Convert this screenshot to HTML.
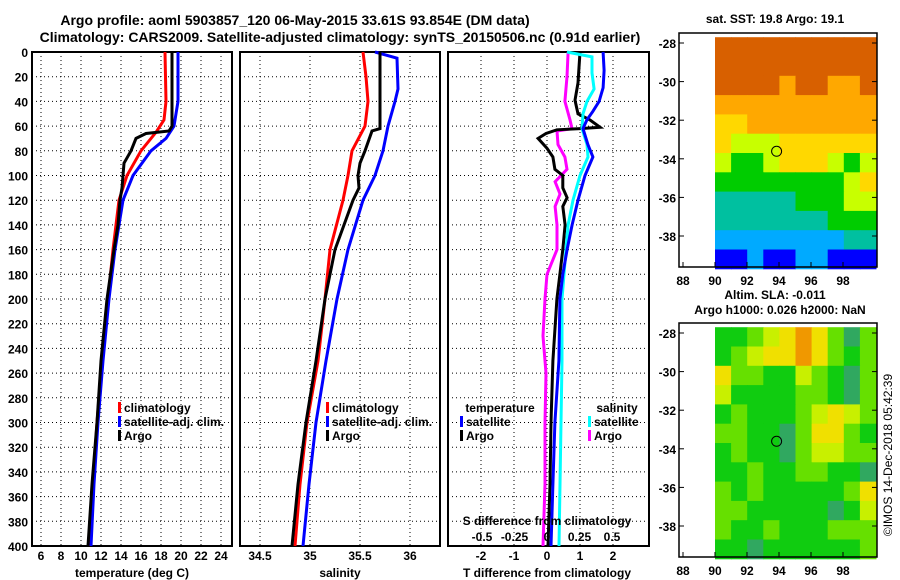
<!DOCTYPE html>
<html><head><meta charset="utf-8">
<style>
html,body{margin:0;padding:0;background:#fff;}
svg{display:block;font-family:"Liberation Sans",sans-serif;font-weight:bold;}
</style></head>
<body>
<svg id="c" width="900" height="580" viewBox="0 0 900 580"></svg>
<script>
// ---------- data ----------
const depthTicks=[0,20,40,60,80,100,120,140,160,180,200,220,240,260,280,300,320,340,360,380,400];
const tempTicks=[6,8,10,12,14,16,18,20,22,24];
const salTicks=[34.5,35,35.5,36];
const tdiffTicks=[-2,-1,0,1,2];
const sdiffTicks=[-0.5,-0.25,0,0.25,0.5];
const sdiffLabels=["-0.5","-0.25","0","0.25","0.5"];

const tClimDepth=[0,40,55,65,80,100,120,140,160,200,250,300,350,400];
const tClimVal=[18.4,18.5,18.3,17.5,16.0,14.6,13.8,13.5,13.2,12.7,12.1,11.6,11.2,10.8];
const tArgoDepth=[0,60,64,66,70,80,90,100,110,120,140,160,200,250,300,350,400];
const tArgoVal=[19.1,19.1,18.8,16.5,15.5,15.0,14.3,14.2,14.1,13.9,13.7,13.3,12.6,12.0,11.6,11.1,10.7];
const tSatDepth=[0,40,60,70,80,100,120,140,160,200,250,300,350,400];
const tSatVal=[19.7,19.7,19.3,18.5,17.0,15.2,14.2,13.8,13.4,12.8,12.2,11.7,11.3,11.0];

const sClimDepth=[0,20,40,60,80,100,120,160,200,250,300,350,400];
const sClimVal=[35.53,35.56,35.58,35.55,35.42,35.38,35.33,35.20,35.15,35.08,34.97,34.90,34.85];
const sArgoDepth=[0,62,64,80,90,100,110,120,160,200,250,300,350,400];
const sArgoVal=[35.70,35.70,35.62,35.55,35.50,35.48,35.49,35.43,35.25,35.15,35.06,34.96,34.88,34.82];
const sSatDepth=[0,5,30,40,60,80,100,120,160,200,250,300,350,400];
const sSatVal=[35.65,35.87,35.88,35.85,35.78,35.73,35.65,35.53,35.38,35.27,35.16,35.06,34.99,34.93];

const dTSatDepth=[0,15,29,40,48,55,62,75,85,100,120,140,160,180,200,250,300,350,400];
const dTSatVal=[1.70,1.73,1.70,1.58,1.39,1.21,1.09,1.24,1.39,1.15,0.94,0.76,0.61,0.48,0.39,0.36,0.24,0.18,0.12];
const dSSatDepth=[0,4,17,30,40,50,62,75,85,100,120,140,160,200,250,300,350,400];
const dSSatVal=[0.154,0.346,0.346,0.362,0.308,0.277,0.269,0.308,0.315,0.254,0.2,0.162,0.146,0.115,0.115,0.108,0.1,0.092];
const dTArgoDepth=[0,25,39,50,55,61,62,63,66,70,78,85,95,100,110,118,125,140,160,180,200,250,300,350,400];
const dTArgoVal=[1.0,0.94,0.85,0.94,1.30,1.61,1.0,0.30,-0.03,-0.27,0,0.18,0.24,0.48,0.48,0.61,0.48,0.55,0.48,0.39,0.30,0.18,0.12,0.09,0.03];
const dSArgoDepth=[0,20,40,55,62,64,75,85,95,105,115,125,140,160,180,200,230,260,300,350,400];
const dSArgoVal=[0.162,0.154,0.138,0.177,0.192,0.077,0.085,0.138,0.154,0.062,0.1,0.062,0.077,0.077,0,-0.015,-0.031,-0.008,-0.015,-0.015,-0.031];

const lonTicks=[88,90,92,94,96,98];
const latTicks=[-28,-30,-32,-34,-36,-38];
const argoLon=93.85, argoLat=-33.61;
const sstGrid=[
[7,7,7,7,7,7,7,7,7,7],
[7,7,7,7,7,7,7,7,7,7],
[7,7,7,7,6,7,7,6,6,7],
[6,6,6,6,6,6,6,6,6,6],
[5,5,6,6,6,6,6,6,6,6],
[5,4,4,4,5,5,5,5,5,5],
[4,3,3,4,5,5,5,4,3,4],
[3,3,3,3,3,3,3,3,4,5],
[2,2,2,2,2,3,3,3,4,4],
[2,2,2,2,2,2,2,3,3,3],
[1,1,1,1,1,1,1,1,2,2],
[0,0,1,0,0,1,1,0,0,0]];
const slaGrid=[
[1,1,2,3,4,5,4,2,0,2],
[1,2,3,4,4,5,4,2,1,2],
[4,2,2,1,1,3,2,1,0,2],
[3,1,1,1,1,2,2,1,0,2],
[1,2,1,1,1,2,3,4,3,2],
[2,2,1,1,0,2,4,4,2,1],
[1,2,1,1,0,2,3,3,2,2],
[1,1,2,1,1,2,2,1,1,0],
[2,1,2,1,1,1,1,1,2,4],
[2,2,1,1,1,1,1,0,1,3],
[2,1,1,2,1,1,1,2,2,2],
[1,1,0,1,1,1,1,1,1,2]];
const sstColors=["#0000ff","#00aaff","#00c0a0","#00cc00","#c8ff00","#ffd800","#ffa800","#d86000"];
const slaColors=["#30a860","#10cc10","#66e000","#c8f000","#f0e000","#f09800"];

// ---------- helpers ----------
const S=document.getElementById('c');
const NS='http://www.w3.org/2000/svg';
function mk(tag,attrs,parent){const e=document.createElementNS(NS,tag);for(const k in attrs)e.setAttribute(k,attrs[k]);(parent||S).appendChild(e);return e;}
function txt(x,y,s,anchor,size,name){const e=mk('text',{x:x,y:y,'text-anchor':anchor||'middle','font-size':size||12,fill:'#000'});e.textContent=s;


return e;}
const top0=52,bot0=546;
const yD=d=>top0+(d/400)*(bot0-top0);

function panel(x0,x1,xTicks,xf,name){
  const g=mk('g',{});
  
  
  xTicks.forEach(t=>{const x=xf(t);const l=mk('line',{x1:x,x2:x,y1:top0,y2:bot0,stroke:'#000','stroke-width':1,'stroke-dasharray':'1,3'},g);
    
    });
  depthTicks.forEach(d=>{const y=yD(d);const l=mk('line',{x1:x0,x2:x1,y1:y,y2:y,stroke:'#000','stroke-width':1,'stroke-dasharray':'1,3'},g);
    
    });
  const r=mk('rect',{x:x0,y:top0,width:x1-x0,height:bot0-top0,fill:'none',stroke:'#000','stroke-width':2},g);
  
  
  return g;
}
function series(xs,ds,xf,color,w,name){
  const pts=ds.map((d,i)=>xf(xs[i]).toFixed(1)+','+yD(d).toFixed(1)).join(' ');
  const p=mk('polyline',{points:pts,fill:'none',stroke:color,'stroke-width':w||3,'stroke-linejoin':'miter'});
  
  
}
function legendItem(x,y,color,label,name){
  const r=mk('rect',{x:x,y:y-10,width:3,height:11,fill:color});
  
  
  txt(x+6,y,label,'start',12,name);
}

// titles
txt(295,25,'Argo profile: aoml 5903857_120 06-May-2015 33.61S 93.854E (DM data)','middle',14,'chart-title');
txt(340,42,'Climatology: CARS2009. Satellite-adjusted climatology: synTS_20150506.nc (0.91d earlier)','middle',14,'chart-subtitle');

// panel 1 temperature
const xT=t=>41+(t-6)*10;
panel(32,232,tempTicks,xT,'temperature-panel');
depthTicks.forEach(d=>txt(28,yD(d)+5,String(d),'end',12,'depth-tick-label'));
tempTicks.forEach(t=>txt(xT(t),560,String(t),'middle',12,'temperature-tick-label'));
txt(132,577,'temperature (deg C)','middle',12,'temperature-axis-title');
series(tClimVal,tClimDepth,xT,'#ff0000',3,'temperature-climatology-line');
series(tSatVal,tSatDepth,xT,'#0000ff',3,'temperature-satellite-line');
series(tArgoVal,tArgoDepth,xT,'#000000',3,'temperature-argo-line');
legendItem(118,412,'#ff0000','climatology','legend-climatology');
legendItem(118,426,'#0000ff','satellite-adj. clim.','legend-satellite-adj');
legendItem(118,440,'#000000','Argo','legend-argo');

// panel 2 salinity
const xS=s=>310+(s-35)*100;
panel(240,440,salTicks,xS,'salinity-panel');
salTicks.forEach(t=>txt(xS(t),560,String(t),'middle',12,'salinity-tick-label'));
txt(340,577,'salinity','middle',12,'salinity-axis-title');
series(sClimVal,sClimDepth,xS,'#ff0000',3,'salinity-climatology-line');
series(sSatVal,sSatDepth,xS,'#0000ff',3,'salinity-satellite-line');
series(sArgoVal,sArgoDepth,xS,'#000000',3,'salinity-argo-line');
legendItem(326,412,'#ff0000','climatology','legend-climatology-2');
legendItem(326,426,'#0000ff','satellite-adj. clim.','legend-satellite-adj-2');
legendItem(326,440,'#000000','Argo','legend-argo-2');

// panel 3 differences
const xDT=v=>547+v*33;
const xDS=v=>547+v*130;
panel(448,649,tdiffTicks,xDT,'difference-panel');
tdiffTicks.forEach(t=>txt(xDT(t),560,String(t),'middle',12,'tdiff-tick-label'));
txt(547,577,'T difference from climatology','middle',12,'tdiff-axis-title');
series(dSArgoVal,dSArgoDepth,xDS,'#ff00ff',3,'sdiff-argo-line');
series(dTArgoVal,dTArgoDepth,xDT,'#000000',3,'tdiff-argo-line');
series(dSSatVal,dSSatDepth,xDS,'#00ffff',3,'sdiff-satellite-line');
series(dTSatVal,dTSatDepth,xDT,'#0000ff',3,'tdiff-satellite-line');
sdiffTicks.forEach((t,i)=>txt(xDS(t),541,sdiffLabels[i],'middle',12,'sdiff-tick-label'));
txt(547,525,'S difference from climatology','middle',12,'sdiff-axis-title');
txt(500,412,'temperature','middle',12,'legend-temperature-header');
legendItem(460,426,'#0000ff','satellite','legend-t-satellite');
legendItem(460,440,'#000000','Argo','legend-t-argo');
txt(617,412,'salinity','middle',12,'legend-salinity-header');
legendItem(588,426,'#00ffff','satellite','legend-s-satellite');
legendItem(588,440,'#ff00ff','Argo','legend-s-argo');

// maps
function map(grid,colors,dy,name,title1,title2){
  const g=mk('g',{});
  
  
  const lonX=l=>715+(l-90)*16.0;
  const latY=l=>43+dy+(-28-l)*19.3;
  const rows=grid.length, cols=grid[0].length;
  const y0=latY(-27.7), y1=latY(-39.7), x0=lonX(90), x1=876;
  const cw=(x1-x0)/cols, ch=(y1-y0)/rows;
  grid.forEach((row,r)=>row.forEach((v,c)=>{
    const e=mk('rect',{x:(x0+c*cw).toFixed(1),y:(y0+r*ch).toFixed(1),width:(cw+0.5).toFixed(1),height:(ch+0.5).toFixed(1),fill:colors[v]},g);
    
    
  }));
  const fr=mk('rect',{x:679,y:33+dy,width:198,height:234,fill:'none',stroke:'#000','stroke-width':1.5},g);
  
  
  latTicks.forEach(l=>{const y=latY(l);
    mk('line',{x1:679,x2:684,y1:y,y2:y,stroke:'#000'},g);
    mk('line',{x1:872,x2:877,y1:y,y2:y,stroke:'#000'},g);
    txt(676,y+5,String(l),'end',12,'map-lat-label');});
  lonTicks.forEach(l=>{const x=lonX(l);
    mk('line',{x1:x,x2:x,y1:262+dy,y2:267+dy,stroke:'#000'},g);
    txt(x,285+dy,String(l),'middle',12,'map-lon-label');});
  const c=mk('circle',{cx:lonX(argoLon),cy:latY(argoLat),r:5,fill:'none',stroke:'#000','stroke-width':1},g);
  
  
  if(title1)txt(775,dy===0?23:299,title1,'middle',12,name+'-title');
  if(title2)txt(780,314,title2,'middle',12,name+'-subtitle');
}
map(sstGrid,sstColors,0,'sst-map','sat. SST: 19.8 Argo: 19.1',null);
map(slaGrid,slaColors,290,'sla-map','Altim. SLA: -0.011','Argo h1000: 0.026 h2000: NaN');
const cr=txt(0,0,'©IMOS 14-Dec-2018 05:42:39','middle',12,'copyright-timestamp');
cr.setAttribute('font-weight','normal');
cr.setAttribute('transform','translate(892,455) rotate(-90)');
</script>
</body></html>
